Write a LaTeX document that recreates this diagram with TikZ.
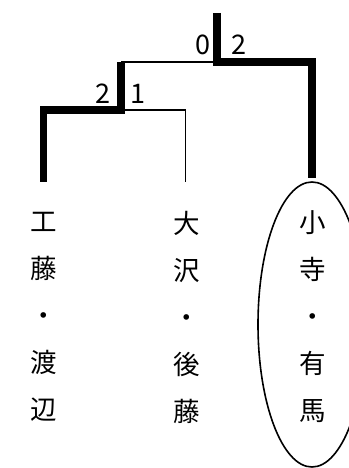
\documentclass[tikz,border=0pt]{standalone}
\usepackage{fontspec}
\setmainfont{Noto Sans CJK JP}
\usepackage{tikz}
\usetikzlibrary{positioning}
\definecolor{TreeLine}{RGB}{0,0,0}
\tikzset{
  % Winner's path
  win/.style={
    draw=TreeLine,
    line width=7.5pt
  },
  % Loser's path
  lose/.style={
    draw=TreeLine,
    line width=1.8pt
  },
  % Score label
  score/.style={
    font=\fontsize{27}{30}\selectfont,
    inner sep=0pt
  },
  % Team names, written top to bottom
  team/.style={
    font=\fontsize{26.5}{47}\selectfont,
    align=center,
    inner sep=0pt
  },
  % Champion ring
  ring/.style={
    draw=TreeLine,
    line width=1.6pt
  }
}

\begin{document}
\begin{tikzpicture}[x=1pt, y=-1pt]
  \useasboundingbox (0,0) rectangle (348,468);

  % Bracket joints
  \coordinate (top)    at (217, 13);
  \coordinate (final)  at (217, 62);
  \coordinate (finalL) at (121, 62);
  \coordinate (finalR) at (312, 62);
  \coordinate (semi)   at (121, 110);
  \coordinate (semiL)  at (43.5, 110);
  \coordinate (semiR)  at (185.5, 110);

  % Leaf tips
  \coordinate (kudoTip)    at (43.5, 182);
  \coordinate (osawaTip)   at (185.5, 182);
  \coordinate (onoderaTip) at (312, 178);

  % Teams
  \node[team] (kudo)    at (43.5, 317) {工\\藤\\・\\渡\\辺};
  \node[team] (osawa)   at (187, 317)  {大\\沢\\・\\後\\藤};
  \node[team] (onodera) at (313, 317)  {小\\寺\\・\\有\\馬};

  % Losing edges
  \draw[lose] (final) -- (finalL);
  \draw[lose] (semi) -- (semiR) -- (osawaTip);

  % Winning edges
  \draw[win] (top) -- (final) -- (finalR) -- (onoderaTip);
  \draw[win] (finalL) -- (semi) -- (semiL) -- (kudoTip);

  % Scores
  \node[score] (finalScoreL) at (202.5, 45) {0};
  \node[score] (finalScoreR) at (239, 45)   {2};
  \node[score] (semiScoreL)  at (103, 94)   {2};
  \node[score] (semiScoreR)  at (138, 94)   {1};

  % Champion
  \draw[ring] (312, 324.5) ellipse [x radius=54, y radius=142.5];
\end{tikzpicture}
\end{document}
